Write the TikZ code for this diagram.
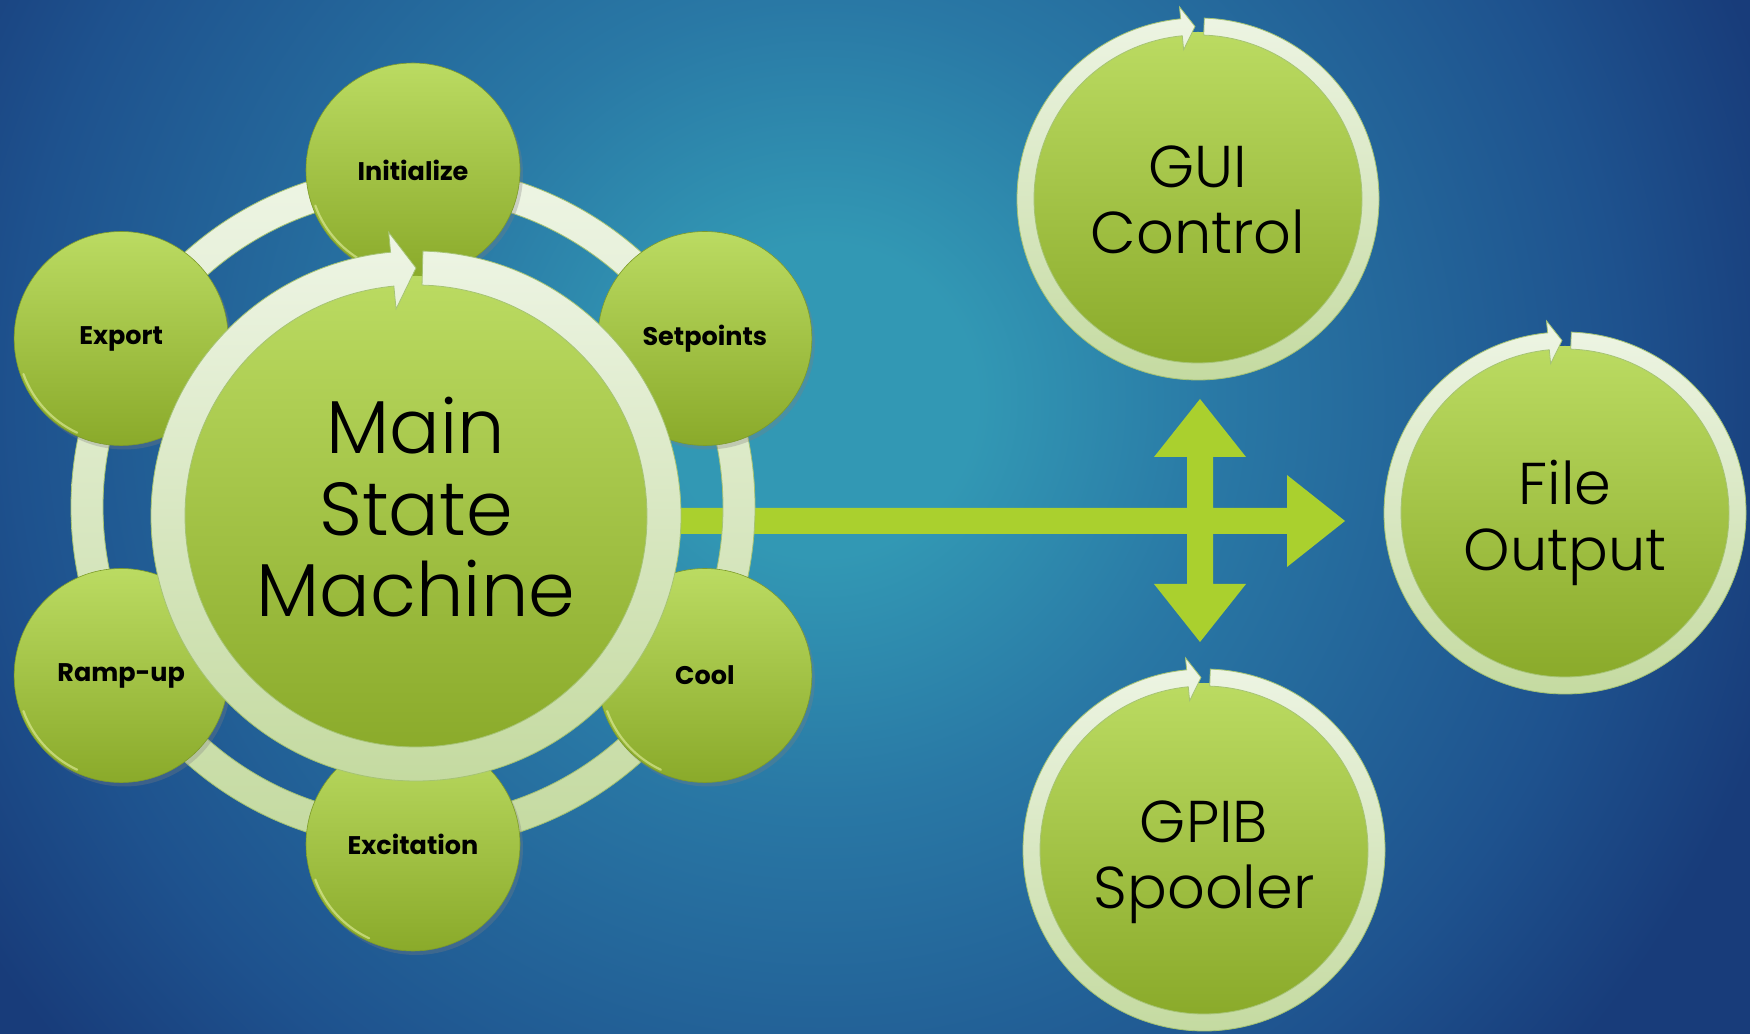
\documentclass[tikz,border=0pt]{standalone}
\usepackage{fontspec}
\usetikzlibrary{calc,shadows}

\IfFontExistsTF{Poppins Light}{\newfontfamily\circfont{Poppins Light}}{\newfontfamily\circfont{Poppins}}
\IfFontExistsTF{Poppins Bold}{\newfontfamily\satfont{Poppins Bold}}{\newfontfamily\satfont{Poppins}[FakeBold=2]}

% palette
\definecolor{bgA}{RGB}{50,152,180}
\definecolor{bgB}{RGB}{41,120,165}
\definecolor{bgC}{RGB}{30,82,142}
\definecolor{bgD}{RGB}{24,60,122}
\definecolor{gTop}{RGB}{187,219,98}
\definecolor{gBot}{RGB}{138,170,42}
\definecolor{gEdge}{RGB}{125,155,42}
\definecolor{ringTop}{RGB}{238,245,229}
\definecolor{ringBot}{RGB}{196,218,160}
\definecolor{ringEdge}{RGB}{165,195,115}
\definecolor{limeArrow}{RGB}{170,208,46}
\definecolor{rimLight}{RGB}{236,246,170}

% soft glow behind the centre of the picture (25bp = 1300pt here)
\pgfdeclareradialshading{bgglow}{\pgfpoint{0bp}{0bp}}{%
  color(0bp)=(bgA); color(3bp)=(bgA); color(7.7bp)=(bgB);
  color(15.4bp)=(bgC); color(19.2bp)=(bgD); color(50bp)=(bgD)}

% circular band ending in an arrow head at the top, running clockwise
% #1 centre, #2 inner r, #3 outer r, #4 head inner r, #5 head outer r,
% #6 start angle, #7 head back angle, #8 tip angle
\newcommand\ringarrow[8]{%
  \shade[ringband,shift={(#1)}]
    (#6:#3) arc[start angle=#6, end angle=#7-360, radius=#3]
    -- (#7:#5) -- (#8:{(#2+#3)/2}) -- (#7:#4) -- (#7:#2)
    arc[start angle=#7-360, end angle=#6, radius=#2] -- cycle;}

\tikzset{
  ringband/.style={top color=ringTop, bottom color=ringBot, draw=ringEdge, line width=0.8pt},
  ball/.style={circle, inner sep=0pt, top color=gTop, bottom color=gBot, text=black, align=center},
  satball/.style={ball, minimum size=214, draw=gEdge, line width=0.6pt,
    font=\satfont\fontsize{25.5}{30}\selectfont,
    drop shadow={opacity=0.3, shadow xshift=3pt, shadow yshift=-4pt}},
  bigball/.style={ball, minimum size=#1,
    drop shadow={opacity=0.3, shadow xshift=3pt, shadow yshift=-4pt}},
  rim/.style={rimLight, line width=2.2pt, line cap=round, opacity=0.55},
  tasktext/.style={font=\circfont\fontsize{59}{66}\selectfont, text depth=0pt},
}

\begin{document}
\begin{tikzpicture}[x=1pt, y=1pt]
\useasboundingbox (0,0) rectangle (1750,1033);

% backdrop
\begin{scope}
  \clip (0,0) rectangle (1750,1033);
  \fill[bgD] (-10,-10) rectangle (1760,1043);
  \shade[shading=bgglow] (820,633) circle (1300);
\end{scope}

\coordinate (mainc) at (416,517);
\coordinate (hexc) at (413,526);
\coordinate (hub) at (1200,512);

% four-way arrow leaving the main state machine
\fill[limeArrow]
  ($(mainc |- hub)+(0,13)$) -- ([shift={(-13,13)}]hub) -- ([shift={(-13,64)}]hub)
  -- ([shift={(-46,64)}]hub) -- ([shift={(0,122)}]hub) -- ([shift={(46,64)}]hub)
  -- ([shift={(13,64)}]hub) -- ([shift={(13,13)}]hub) -- ([shift={(87,13)}]hub)
  -- ([shift={(87,46)}]hub) -- ([shift={(145,0)}]hub) -- ([shift={(87,-46)}]hub)
  -- ([shift={(87,-13)}]hub) -- ([shift={(13,-13)}]hub) -- ([shift={(13,-63)}]hub)
  -- ([shift={(46,-63)}]hub) -- ([shift={(0,-121)}]hub) -- ([shift={(-46,-63)}]hub)
  -- ([shift={(-13,-63)}]hub) -- ([shift={(-13,-13)}]hub)
  -- ($(mainc |- hub)+(0,-13)$) -- cycle;

% ring joining the states
\shade[ringband, even odd rule] (hexc) circle (342) (hexc) circle (310);

% states
\node[satball] (init) at ([shift={(90:337)}]hexc)  {Initialize};
\node[satball] (setp) at ([shift={(30:337)}]hexc)  {Setpoints};
\node[satball] (cool) at ([shift={(-30:337)}]hexc) {Cool};
\node[satball] (exci) at ([shift={(-90:337)}]hexc) {Excitation};
\node[satball] (ramp) at ([shift={(210:337)}]hexc) {Ramp-up};
\node[satball] (expo) at ([shift={(150:337)}]hexc) {Export};
\foreach \n in {init,setp,cool,exci,ramp,expo}
  \draw[rim] ([shift={(200:104)}]\n.center) arc[start angle=200, end angle=245, radius=104];

% main state machine
\node[bigball=480, text depth=18pt, font=\circfont\fontsize{75}{81.5}\selectfont] (main) at (mainc)
  {Main\\State\\Machine};
\ringarrow{main.center}{231}{265}{208}{285}{88.5}{95.5}{90}

% parallel tasks
\node[bigball=334, tasktext, text height=110pt] (gui) at (1198,834) {GUI\\Control};
\ringarrow{gui.center}{164}{181}{150}{193}{88}{95.5}{91}
\node[bigball=334, tasktext, text height=116pt] (file) at (1565,520) {File\\Output};
\ringarrow{file.center}{164}{181}{150}{193}{88}{95.5}{91}
\node[bigball=334, tasktext, text height=118pt] (gpib) at (1204,183) {GPIB\\Spooler};
\ringarrow{gpib.center}{164}{181}{150}{193}{88}{95.5}{91}
\end{tikzpicture}
\end{document}
